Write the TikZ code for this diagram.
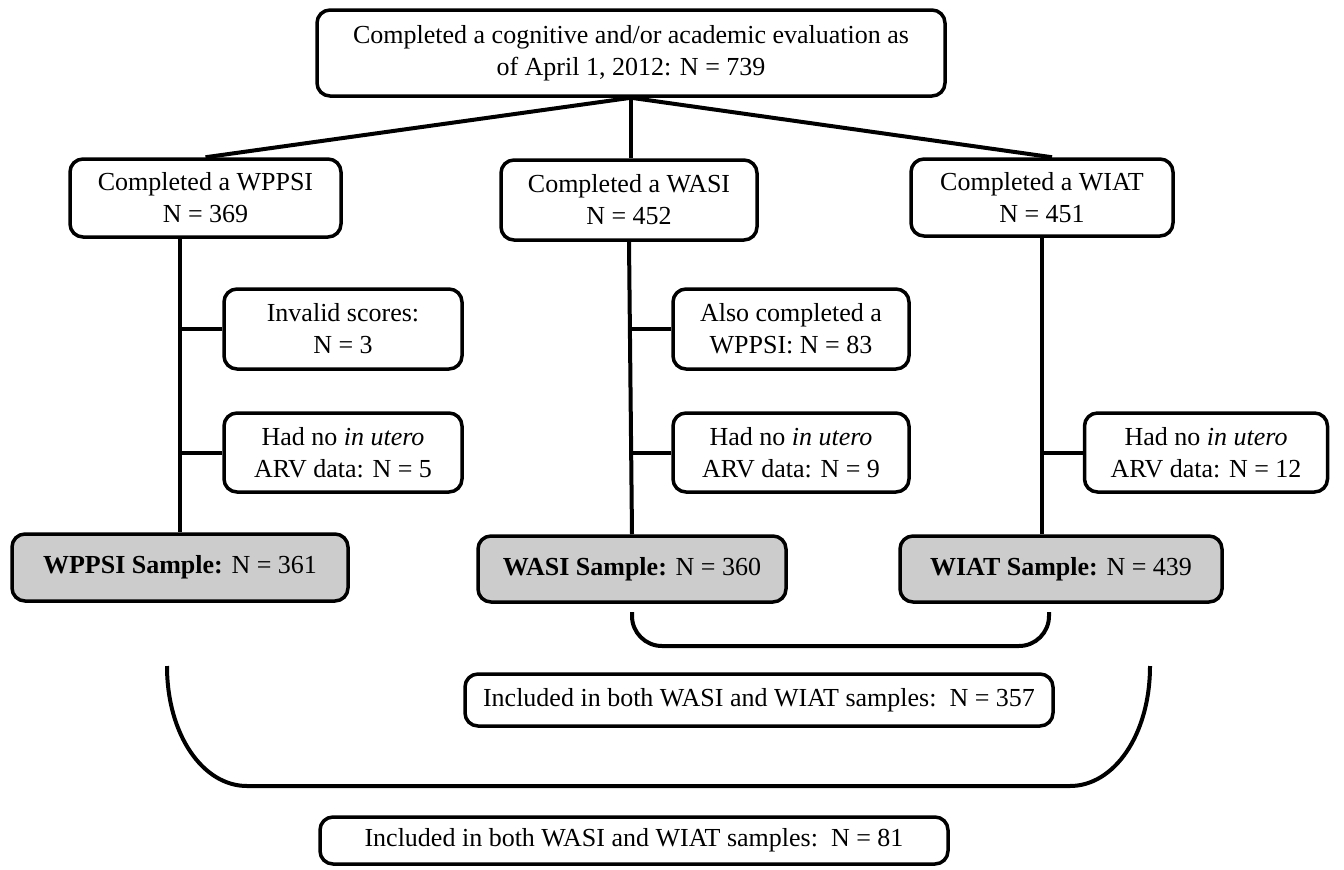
\documentclass[tikz,border=0pt]{standalone}
\usepackage{fontspec}
\setmainfont{Liberation Serif}
\usetikzlibrary{calc}

\tikzset{
  box/.style={draw, line width=3.5pt, rounded corners=13pt, align=center,
    inner sep=0pt, font=\fontsize{26}{32}\selectfont},
  samplebox/.style={box, fill=black!20},
  link/.style={line width=4pt}
}

\begin{document}
\begin{tikzpicture}[x=1pt, y=-1pt]
  \useasboundingbox (0,0) rectangle (1344,870);
  % Top
  \node[box, minimum width=628pt, minimum height=86pt] (top) at (631,53)
    {Completed a cognitive and/or academic evaluation as\\of April 1, 2012: N = 739};
  % Tests
  \node[box, minimum width=271pt, minimum height=78pt] (wppsi) at (205.5,198) {Completed a WPPSI\\N = 369};
  \node[box, minimum width=256pt, minimum height=80pt] (wasi) at (629,200) {Completed a WASI\\N = 452};
  \node[box, minimum width=262pt, minimum height=77pt] (wiat) at (1042,197.5) {Completed a WIAT\\N = 451};
  % Exclusions
  \node[box, minimum width=238pt, minimum height=80pt] (invalid) at (343,329) {Invalid scores:\\N = 3};
  \node[box, minimum width=238pt, minimum height=79pt] (noarva) at (343,452.5) {Had no \textit{in utero}\\ARV data: N = 5};
  \node[box, minimum width=236pt, minimum height=80pt] (also) at (791,329) {Also completed a\\WPPSI: N = 83};
  \node[box, minimum width=236pt, minimum height=79pt] (noarvb) at (791,452.5) {Had no \textit{in utero}\\ARV data: N = 9};
  \node[box, minimum width=243pt, minimum height=79pt] (noarvc) at (1206,452.5) {Had no \textit{in utero}\\ARV data: N = 12};
  % Samples
  \node[samplebox, minimum width=336pt, minimum height=67pt] (swppsi) at (180,567.5) {\textbf{WPPSI Sample:} N = 361};
  \node[samplebox, minimum width=308pt, minimum height=66pt] (swasi) at (632,569) {\textbf{WASI Sample:} N = 360};
  \node[samplebox, minimum width=322pt, minimum height=66pt] (swiat) at (1061,569) {\textbf{WIAT Sample:} N = 439};
  % Overlaps
  \node[box, minimum width=588pt, minimum height=52pt] (both357) at (759,700) {Included in both WASI and WIAT samples:\ \ N = 357};
  \node[box, minimum width=628pt, minimum height=47pt] (both81) at (634,840.5) {Included in both WASI and WIAT samples:\ \ N = 81};

  % Branches from top
  \draw[link] (top.south) -- (wppsi.north);
  \draw[link] (top.south) -- (top.south |- wasi.north);
  \draw[link] (top.south) -- ($(wiat.north)+(10,0)$);
  % Trunks
  \draw[link] (swppsi.north |- wppsi.south) -- (swppsi.north);
  \draw[link] (wasi.south) -- (swasi.north);
  \draw[link] (wiat.south) -- (wiat.south |- swiat.north);
  % Side links
  \draw[link] (invalid.west) -- (invalid.west -| swppsi.north);
  \draw[link] (noarva.west) -- (noarva.west -| swppsi.north);
  \draw[link] (also.west) -- (also.west -| wasi.south);
  \draw[link] (noarvb.west) -- (noarvb.west -| wasi.south);
  \draw[link] (noarvc.west) -- (noarvc.west -| wiat.south);
  % Brackets
  \coordinate (sba) at (632,612);
  \coordinate (sbb) at (1049,612);
  \draw[link, rounded corners=30pt] (sba) -- (632,646) -- (1049,646) -- (sbb);
  \coordinate (bba) at (167,666);
  \coordinate (bbb) at (1150,666);
  \draw[link] (bba) .. controls (167,735) and (203,786) .. (247,786)
    -- (1070,786) .. controls (1114,786) and (1150,735) .. (bbb);
\end{tikzpicture}
\end{document}
